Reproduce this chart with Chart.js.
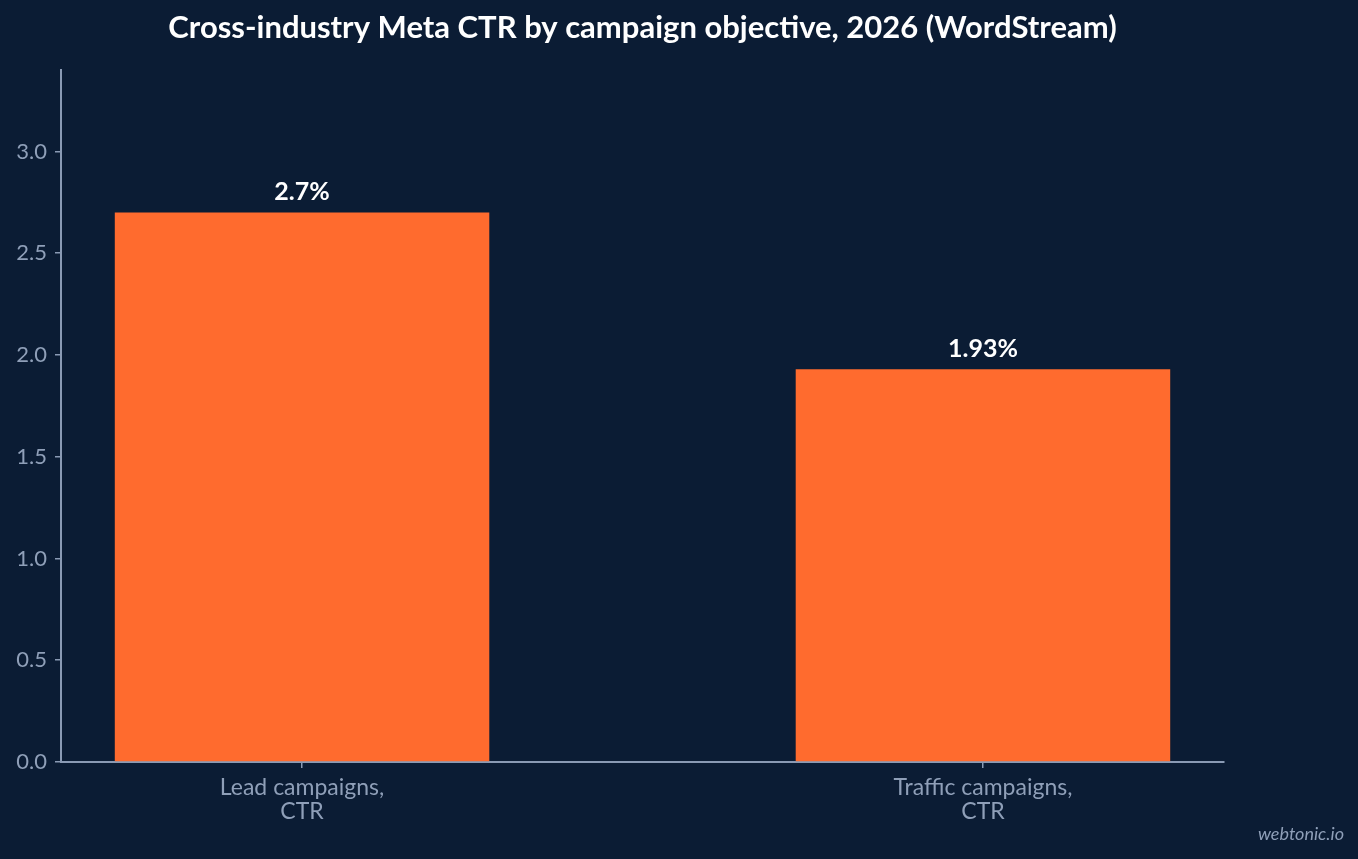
<!DOCTYPE html>
<html>
<head>
<meta charset="utf-8">
<script src="https://cdn.jsdelivr.net/npm/chart.js@4.4.1/dist/chart.umd.min.js"></script>
<style>
  html, body { margin: 0; padding: 0; background: #0b1c34; }
  #wrap { width: 1358px; height: 859px; }
</style>
</head>
<body>
<div id="wrap"><canvas id="chart"></canvas></div>
<script>
const chartTitle = 'Cross-industry Meta CTR by campaign objective, 2026 (WordStream)';
const categories = [['Lead campaigns,', 'CTR'], ['Traffic campaigns,', 'CTR']];
const ctrValues = [2.7, 1.93];
const valueLabels = ['2.7%', '1.93%'];
const yTicks = [0, 0.5, 1.0, 1.5, 2.0, 2.5, 3.0];

const axisColor = '#8a9ab4';
const textColor = '#8f9fb8';

// title over the plot area, bar value labels, watermark
const extras = {
  id: 'extras',
  afterDatasetsDraw(chart) {
    const ctx = chart.ctx;
    const area = chart.chartArea;
    const meta = chart.getDatasetMeta(0);
    ctx.save();
    ctx.fillStyle = '#ffffff';
    ctx.font = 'bold 31px Lato';
    ctx.textAlign = 'center';
    ctx.textBaseline = 'middle';
    ctx.fillText(chartTitle, (area.left + area.right) / 2, 28);

    ctx.font = 'bold 25px Lato';
    ctx.textBaseline = 'bottom';
    meta.data.forEach((bar, i) => {
      ctx.fillText(valueLabels[i], bar.x, bar.y - 8);
    });
    ctx.fillStyle = textColor;
    ctx.font = 'italic 18px Lato';
    ctx.textAlign = 'right';
    ctx.textBaseline = 'middle';
    ctx.fillText('webtonic.io', chart.width - 14, 834);
    ctx.restore();
  }
};

new Chart(document.getElementById('chart').getContext('2d'), {
  type: 'bar',
  data: {
    datasets: [{
      data: ctrValues.map((v, i) => ({ x: i, y: v })),
      backgroundColor: '#ff6b2e',
      borderWidth: 0,
      categoryPercentage: 1,
      barPercentage: 0.55,
    }],
  },
  options: {
    responsive: true,
    maintainAspectRatio: false,
    animation: false,
    layout: { padding: { left: 0, right: 134, top: 70, bottom: 0 } },
    plugins: {
      legend: { display: false },
      tooltip: { enabled: false },
      title: { display: false },
    },
    scales: {
      x: {
        type: 'linear',
        offset: false,
        min: -0.354,
        max: 1.354,
        afterBuildTicks(scale) {
          scale.ticks = categories.map((c, i) => ({ value: i }));
        },
        afterFit(scale) { scale.height = 97; },
        ticks: {
          color: textColor,
          font: { family: 'Lato', size: 23, lineHeight: 1.02 },
          padding: 8,
          maxRotation: 0,
          callback: (v) => categories[v],
        },
        grid: { offset: false, drawOnChartArea: false, drawTicks: true, tickLength: 6, color: axisColor, lineWidth: 1.5 },
        border: { display: true, color: axisColor, width: 2 },
      },
      y: {
        min: 0,
        max: 3.4,
        afterBuildTicks(scale) {
          scale.ticks = yTicks.map(v => ({ value: v }));
        },
        afterFit(scale) { scale.width = 61; },
        ticks: {
          color: textColor,
          font: { family: 'Lato', size: 22 },
          padding: 8,
          callback: (v) => Number(v).toFixed(1),
        },
        grid: { drawOnChartArea: false, drawTicks: true, tickLength: 6, color: axisColor, lineWidth: 1.5 },
        border: { display: true, color: axisColor, width: 2 },
      },
    },
  },
  plugins: [extras],
});
</script>
</body>
</html>
